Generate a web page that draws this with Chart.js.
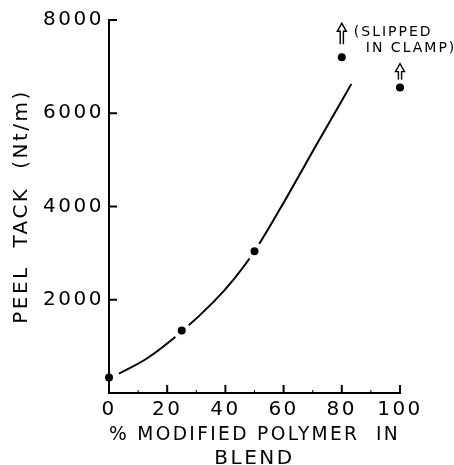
<!DOCTYPE html>
<html>
<head>
<meta charset="utf-8">
<script src="https://cdn.jsdelivr.net/npm/chart.js@4"></script>
<style>
  html, body { margin: 0; padding: 0; background: #fff; }
  #wrap { width: 454px; height: 465px; }
</style>
</head>
<body>
<div id="wrap"><canvas id="myChart" width="454" height="465"></canvas></div>
<script>
// measured points
const percentBlend = [0, 25, 50, 80, 100];
const peelTack = [330, 1340, 3040, 7200, 6550];
// hand-drawn curve through the points
const curvePercent = [3.4, 13, 25, 36, 43, 50, 61, 71, 83.3];
const curveTack = [415, 740, 1320, 1960, 2450, 3040, 4190, 5290, 6630];
// axes
const xTickValues = [0, 20, 40, 60, 80, 100];
const xMinorTicks = [10, 30, 50, 70, 90];
const yTickValues = [2000, 4000, 6000, 8000];
// the two points that slipped in the clamp
const slippedPercent = [80, 100];

const fontFamily = "'DejaVu Sans', sans-serif";

const spacingPlugin = {
    id: 'spacing',
    beforeDraw(chart) {
        chart.ctx.letterSpacing = '2.5px';
    }
};

// ticks point into the plot, plus the arrows and the note
const decorPlugin = {
    id: 'decor',
    afterDraw(chart) {
        const ctx = chart.ctx;
        const xs = chart.scales.x;
        const ys = chart.scales.y;
        const x0 = xs.getPixelForValue(0);
        const y0 = ys.getPixelForValue(0);
        ctx.save();
        ctx.strokeStyle = '#000';
        ctx.lineWidth = 2;
        ctx.beginPath();
        yTickValues.forEach(v => {
            const y = ys.getPixelForValue(v);
            ctx.moveTo(x0, y);
            ctx.lineTo(x0 + 8, y);
        });
        xTickValues.slice(1).forEach(v => {
            const x = xs.getPixelForValue(v);
            ctx.moveTo(x, y0);
            ctx.lineTo(x, y0 - 8);
        });
        ctx.stroke();
        ctx.lineWidth = 1;
        ctx.beginPath();
        xMinorTicks.forEach(v => {
            const x = xs.getPixelForValue(v);
            ctx.moveTo(x, y0);
            ctx.lineTo(x, y0 - 3);
        });
        ctx.stroke();

        // hollow up arrows
        const arrow = (x, tip, bottom) => {
            const head = tip + 8;
            ctx.beginPath();
            ctx.moveTo(x - 1.6, bottom);
            ctx.lineTo(x - 1.6, head);
            ctx.lineTo(x - 4.5, head);
            ctx.lineTo(x, tip);
            ctx.lineTo(x + 4.5, head);
            ctx.lineTo(x + 1.6, head);
            ctx.lineTo(x + 1.6, bottom);
            ctx.stroke();
        };
        ctx.lineWidth = 1.4;
        const p1x = xs.getPixelForValue(slippedPercent[0]);
        const p1y = ys.getPixelForValue(peelTack[3]);
        const p2x = xs.getPixelForValue(slippedPercent[1]);
        const p2y = ys.getPixelForValue(peelTack[4]);
        arrow(p1x, p1y - 34, p1y - 13);
        arrow(p2x, p2y - 24, p2y - 8);

        ctx.fillStyle = '#000';
        ctx.font = '14px ' + fontFamily;
        ctx.letterSpacing = '2px';
        ctx.textAlign = 'left';
        ctx.textBaseline = 'middle';
        ctx.fillText('(SLIPPED', p1x + 12, p1y - 25);
        ctx.fillText('IN CLAMP)', p1x + 24, p1y - 9);
        ctx.restore();
    }
};

const ctx = document.getElementById('myChart').getContext('2d');
new Chart(ctx, {
    type: 'scatter',
    data: {
        datasets: [{
            label: 'Peel tack',
            data: percentBlend.map((p, i) => ({ x: p, y: peelTack[i] })),
            backgroundColor: '#000',
            pointBorderColor: '#fff',
            pointRadius: [4, 6.5, 6.5, 4, 4],
            pointBorderWidth: [0, 5, 5, 0, 0],
            clip: false,
            order: 0
        }, {
            label: 'Curve',
            data: curvePercent.map((p, i) => ({ x: p, y: curveTack[i] })),
            showLine: true,
            borderColor: '#000',
            borderWidth: 2,
            pointRadius: 0,
            cubicInterpolationMode: 'monotone',
            order: 1
        }]
    },
    options: {
        responsive: false,
        animation: false,
        events: [],
        layout: { padding: { left: 0, right: 54, top: 20, bottom: 0 } },
        plugins: { legend: { display: false }, tooltip: { enabled: false } },
        scales: {
            x: {
                type: 'linear',
                min: 0,
                max: 100,
                afterFit(scale) { scale.height = 72; },
                afterBuildTicks(scale) { scale.ticks = xTickValues.map(v => ({ value: v })); },
                grid: { display: false, drawTicks: false },
                border: { display: true, color: '#000', width: 2 },
                ticks: {
                    color: '#000',
                    padding: 5,
                    maxRotation: 0,
                    callback: v => String(v),
                    font: { family: fontFamily, size: 20 }
                },
                title: {
                    display: true,
                    text: ['% MODIFIED POLYMER  IN', 'BLEND'],
                    color: '#000',
                    font: { family: fontFamily, size: 20, lineHeight: '24px' },
                    padding: { top: 0, bottom: -6 }
                }
            },
            y: {
                type: 'linear',
                min: 0,
                max: 8000,
                afterFit(scale) { scale.width = 109; },
                afterBuildTicks(scale) { scale.ticks = yTickValues.map(v => ({ value: v })); },
                grid: { display: false, drawTicks: false },
                border: { display: true, color: '#000', width: 2 },
                ticks: {
                    color: '#000',
                    padding: 5,
                    callback: v => String(v),
                    font: { family: fontFamily, size: 20 }
                },
                title: {
                    display: true,
                    text: 'PEEL  TACK  (Nt/m)',
                    color: '#000',
                    font: { family: fontFamily, size: 20, lineHeight: '24px' },
                    padding: { top: 10, bottom: 0 }
                }
            }
        }
    },
    plugins: [spacingPlugin, decorPlugin]
});
</script>
</body>
</html>
